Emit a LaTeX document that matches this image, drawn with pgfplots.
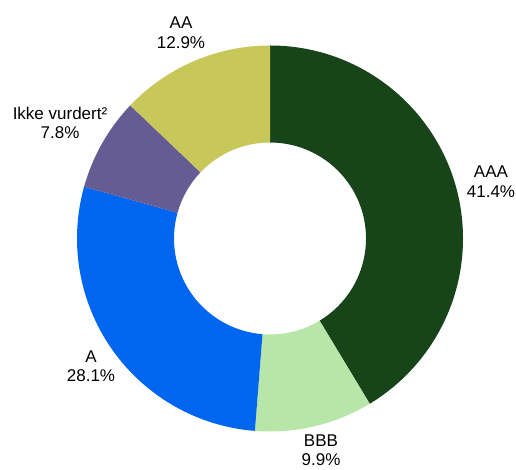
\documentclass[border=0pt]{standalone}
\usepackage{fontspec}
\setmainfont{Liberation Sans}
\usepackage{pgfplots}
\usepackage{pgfplotstable}
\pgfplotsset{compat=1.18}

\definecolor{cAAA}{HTML}{18441A}
\definecolor{cBBB}{HTML}{B8E6A8}
\definecolor{cA}{HTML}{0066F0}
\definecolor{cIkke}{HTML}{655C94}
\definecolor{cAA}{HTML}{C8C85A}

% share of each rating, clockwise from the top
\pgfplotstableread{
rating share color
AAA   41.4  cAAA
BBB   9.9   cBBB
A     28.1  cA
Ikke  7.8   cIkke
AA    12.9  cAA
}\ratings

\begin{document}
\begin{tikzpicture}
\begin{axis}[
    width=516pt, height=470pt, scale only axis,
    xmin=0, xmax=516, ymin=0, ymax=470,
    hide axis, clip=false,
  ]
  \pgfplotstablegetrowsof{\ratings}
  \pgfmathtruncatemacro\lastrow{\pgfplotsretval-1}
  \gdef\total{0}
  \pgfplotsinvokeforeach{0,...,\lastrow}{
    \pgfplotstablegetelem{#1}{share}\of\ratings
    \pgfmathsetmacro\tmp{\total+\pgfplotsretval}
    \global\let\total\tmp
  }
  \gdef\cum{0}
  \pgfplotsinvokeforeach{0,...,\lastrow}{
    \pgfplotstablegetelem{#1}{share}\of\ratings \let\v\pgfplotsretval
    \pgfplotstablegetelem{#1}{color}\of\ratings \let\c\pgfplotsretval
    \pgfmathsetmacro\aone{90-360*(\cum/\total)}
    \pgfmathsetmacro\atwo{90-360*((\cum+\v)/\total)}
    \edef\temp{\noexpand\fill[\c] (axis cs:270,231.5) ++(\aone:193pt)
      arc[start angle=\aone, end angle=\atwo, radius=193pt]
      -- ++(\atwo:-97pt)
      arc[start angle=\atwo, end angle=\aone, radius=96pt] -- cycle;}
    \temp
    \pgfmathsetmacro\tmp{\cum+\v}
    \global\let\cum\tmp
  }
  \begin{scope}[every node/.style={align=center, font=\fontsize{17}{19.5}\selectfont, inner sep=0pt}]
    \node at (axis cs:491,288.5) {AAA\\41.4\%};
    \node at (axis cs:321,20) {BBB\\9.9\%};
    \node at (axis cs:91,104) {A\\28.1\%};
    \node at (axis cs:60,347) {Ikke vurdert²\\7.8\%};
    \node at (axis cs:181,437.5) {AA\\12.9\%};
  \end{scope}
\end{axis}
\pgfresetboundingbox
\path (current axis.south west) rectangle (current axis.north east);
\end{tikzpicture}
\end{document}
